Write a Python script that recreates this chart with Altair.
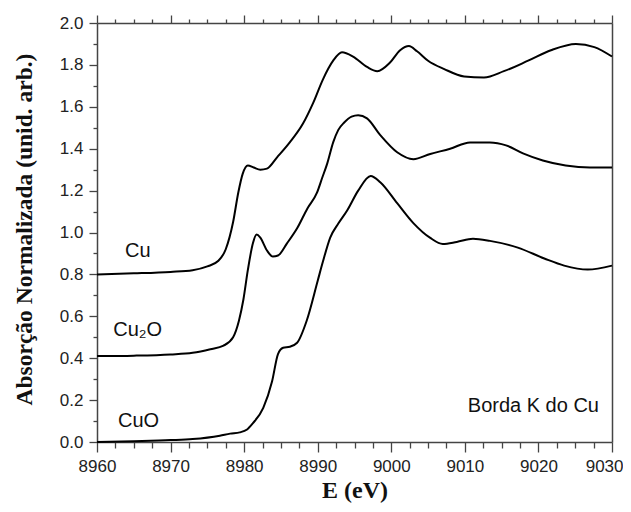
import altair as alt
import pandas as pd

# ---- data ----
cu_E = [8960, 8965, 8970, 8973, 8975, 8976.5, 8977.5, 8978.5, 8979.2, 8979.8, 8980.5,
        8981.3, 8982.2, 8983.1, 8984.5, 8986.2, 8988.0, 8989.4, 8990.7, 8992.1, 8993.3,
        8994.8, 8996.7, 8998.1, 8999.8, 9001.2, 9002.4, 9003.5, 9005.0, 9007.2, 9009.9,
        9012.6, 9015.3, 9018.6, 9021.7, 9025.1, 9027.6, 9030]
cu_A = [0.80, 0.805, 0.812, 0.82, 0.838, 0.865, 0.92, 1.05, 1.19, 1.28, 1.32,
        1.31, 1.30, 1.305, 1.36, 1.43, 1.52, 1.62, 1.73, 1.82, 1.86,
        1.84, 1.79, 1.77, 1.81, 1.87, 1.89, 1.865, 1.82, 1.78, 1.745,
        1.74, 1.77, 1.82, 1.87, 1.90, 1.885, 1.84]

cu2o_E = [8960, 8965, 8970, 8973, 8975.4, 8977.2, 8978.5, 8979.3, 8979.9, 8980.5, 8981.2,
          8981.7, 8982.2, 8983.1, 8983.9, 8984.6, 8985.8, 8987.2, 8988.6, 8989.9, 8990.6,
          8991.3, 8992.1, 8992.8, 8993.6, 8994.6, 8995.5, 8996.7, 8998.5, 9000.8, 9003.0,
          9005.3, 9008.0, 9010.7, 9013.4, 9015.6, 9017.9, 9020.6, 9023.7, 9027.0, 9030]
cu2o_A = [0.41, 0.412, 0.418, 0.426, 0.443, 0.46, 0.50, 0.58, 0.68, 0.82, 0.95,
          0.99, 0.975, 0.914, 0.885, 0.89, 0.947, 1.02, 1.115, 1.19, 1.26,
          1.33, 1.43, 1.49, 1.525, 1.553, 1.56, 1.545, 1.465, 1.383, 1.35,
          1.375, 1.40, 1.43, 1.43, 1.416, 1.378, 1.344, 1.32, 1.31, 1.31]

cuo_E = [8960, 8965, 8970, 8973, 8976.7, 8978.1, 8979.4, 8980.4, 8981.2, 8982.6, 8983.8,
         8984.6, 8985.3, 8986.2, 8987.2, 8988.5, 8990.0, 8990.7, 8991.7, 8992.8, 8994.0,
         8995.5, 8997.2, 8998.5, 9000.8, 9003.0, 9005.3, 9007.0, 9008.9, 9011.1, 9013.4,
         9017.2, 9020.8, 9023.5, 9026.7, 9030]
cuo_A = [0.0, 0.004, 0.009, 0.014, 0.03, 0.04, 0.046, 0.06, 0.09, 0.163, 0.29,
         0.42, 0.45, 0.455, 0.474, 0.579, 0.77, 0.86, 0.976, 1.043, 1.105,
         1.20, 1.27, 1.24, 1.14, 1.045, 0.974, 0.945, 0.955, 0.97, 0.96,
         0.928, 0.876, 0.842, 0.823, 0.842]

x_major = [8960, 8970, 8980, 8990, 9000, 9010, 9020, 9030]
x_minor = [8962.5, 8965, 8967.5, 8972.5, 8975, 8977.5, 8982.5, 8985, 8987.5,
           8992.5, 8995, 8997.5, 9002.5, 9005, 9007.5, 9012.5, 9015, 9017.5,
           9022.5, 9025, 9027.5]
y_major = [0.0, 0.2, 0.4, 0.6, 0.8, 1.0, 1.2, 1.4, 1.6, 1.8, 2.0]
y_minor = [0.1, 0.3, 0.5, 0.7, 0.9, 1.1, 1.3, 1.5, 1.7, 1.9]

ann_labels = ["Cu", "Cu\u2082O", "CuO", "Borda K do Cu"]
ann_E = [8963.8, 8962.2, 8962.85, 9010.4]
ann_A = [0.883, 0.506, 0.072, 0.143]

# ---- tables ----
rows = []
for name, es, as_ in [("Cu", cu_E, cu_A), ("Cu2O", cu2o_E, cu2o_A), ("CuO", cuo_E, cuo_A)]:
    for e, a in zip(es, as_):
        rows.append({"E": e, "A": a, "amostra": name})
df = pd.DataFrame(rows)
ann = pd.DataFrame({"label": ann_labels, "E": ann_E, "A": ann_A})

xs = alt.Scale(domain=[8960, 9030], nice=False, zero=False)
ys = alt.Scale(domain=[0, 2.0], nice=False, zero=False)

base = alt.Chart(df)

last_x = x_major[-1]

lines = base.mark_line(color="black", strokeWidth=2, interpolate="monotone").encode(
    x=alt.X("E:Q", scale=xs, axis=alt.Axis(
        orient="bottom", values=x_major, format="d", title="E (eV)", tickSize=10,
        labelPadding=6, labelFlush=False,
        labelAlign={"condition": {"test": f"datum.value == {last_x}", "value": "right"},
                    "value": "center"},
        labelOffset={"condition": {"test": f"datum.value == {last_x}", "value": 11},
                     "value": 0},
        titleFontSize=24, titleX=257.5, titleY=55,
        titleBaseline="alphabetic", titleAlign="center")),
    y=alt.Y("A:Q", scale=ys, axis=alt.Axis(
        orient="left", values=y_major, format=".1f",
        title="Absorção Normalizada (unid. arb.)", tickSize=8, labelPadding=6,
        titleFontSize=23.5, titleX=-73, titleY=206, titleAngle=270,
        titleBaseline="middle", titleAlign="center")),
    detail="amostra:N",
)

minor = base.mark_line(opacity=0).encode(
    x=alt.X("E:Q", scale=xs, axis=alt.Axis(
        orient="bottom", values=x_minor, labels=False, title=None, tickSize=6, domain=False)),
    y=alt.Y("A:Q", scale=ys, axis=alt.Axis(
        orient="left", values=y_minor, labels=False, title=None, tickSize=4, domain=False)),
    detail="amostra:N",
)

top = base.mark_line(opacity=0).encode(
    x=alt.X("E:Q", scale=xs, axis=alt.Axis(
        orient="top", values=x_major, labels=False, title=None, tickSize=8)),
    y=alt.Y("A:Q", scale=ys, axis=alt.Axis(
        orient="right", ticks=False, labels=False, title=None)),
    detail="amostra:N",
)

topminor = base.mark_line(opacity=0).encode(
    x=alt.X("E:Q", scale=xs, axis=alt.Axis(
        orient="top", values=x_minor, labels=False, title=None, tickSize=4, domain=False)),
    y=alt.Y("A:Q", scale=ys, axis=None),
    detail="amostra:N",
)

texts = alt.Chart(ann).mark_text(
    align="left", baseline="alphabetic", font="Liberation Sans", fontSize=20, color="#111111"
).encode(
    x=alt.X("E:Q", scale=xs, axis=None),
    y=alt.Y("A:Q", scale=ys, axis=None),
    text="label:N",
)

chart = alt.layer(lines, minor, top, topminor, texts).resolve_axis(
    x="independent", y="independent"
).properties(
    width=515, height=419,
    autosize=alt.AutoSizeParams(type="none"),
    padding={"left": 89, "top": 15, "right": 11, "bottom": 62},
    background="white",
).configure_axis(
    grid=False,
    domainColor="#444444", domainWidth=1.5,
    tickColor="#444444", tickWidth=1.3,
    labelFont="Liberation Sans", labelFontSize=17, labelColor="#222222",
    titleFont="Liberation Serif", titleFontSize=22, titleFontWeight="bold",
    titleColor="#111111",
).configure_view(stroke=None)

chart.save("out.html", embed_options={"renderer": "svg", "actions": False})
